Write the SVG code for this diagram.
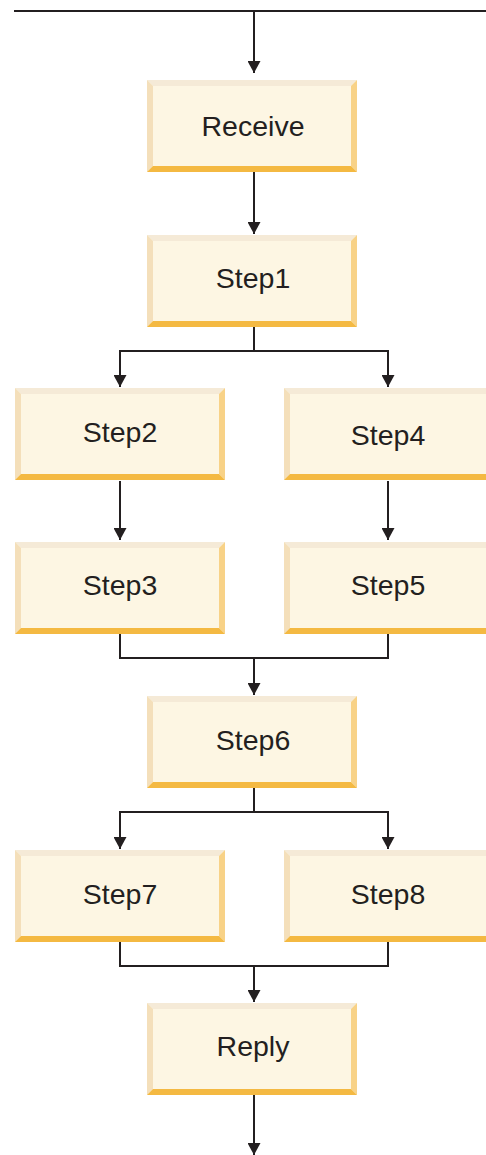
<svg xmlns="http://www.w3.org/2000/svg" xmlns:xlink="http://www.w3.org/1999/xlink" width="486" height="1155" viewBox="0 0 486 1155">
<style>
.lbl{font-family:"Liberation Sans",Arial,Helvetica,sans-serif;font-size:28.5px;fill:#231f20;text-anchor:middle}
.conn{fill:none;stroke:#231f20;stroke-width:2}
</style>
<defs>
<marker id="arr" markerUnits="userSpaceOnUse" viewBox="0 0 12 13" refX="12" refY="6.5" markerWidth="12" markerHeight="13" orient="auto">
<path d="M0,0 L12,6.5 L0,13 z" fill="#231f20"/>
</marker>
<g id="box">
<rect x="0" y="0" width="210" height="92" fill="#fdf6e3"/>
<polygon points="0,0 210,0 204,6 6,6" fill="#f5ead7"/>
<polygon points="0,0 6,6 6,86 0,92" fill="#f4dfba"/>
<polygon points="210,0 210,92 204,86 204,6" fill="#f8d287"/>
<polygon points="0,92 6,86 204,86 210,92" fill="#f4b942"/>
</g>
</defs>
<rect width="486" height="1155" fill="#ffffff"/>
<g id="connectors">
<path class="conn" d="M14,11 H486"/>
<path class="conn" d="M254,11 V73" marker-end="url(#arr)"/>
<path class="conn" d="M254,172 V234" marker-end="url(#arr)"/>
<path class="conn" d="M254,327 V351 H120 V387" marker-end="url(#arr)"/>
<path class="conn" d="M254,351 H388 V387" marker-end="url(#arr)"/>
<path class="conn" d="M120,481 V540" marker-end="url(#arr)"/>
<path class="conn" d="M388,481 V540" marker-end="url(#arr)"/>
<path class="conn" d="M120,634 V658 H388 V634"/>
<path class="conn" d="M254,658 V695" marker-end="url(#arr)"/>
<path class="conn" d="M254,788 V812 H120 V849" marker-end="url(#arr)"/>
<path class="conn" d="M254,812 H388 V849" marker-end="url(#arr)"/>
<path class="conn" d="M120,942 V966 H388 V942"/>
<path class="conn" d="M254,966 V1002" marker-end="url(#arr)"/>
<path class="conn" d="M254,1095 V1155" marker-end="url(#arr)"/>
</g>
<g id="receive"><use xlink:href="#box" x="147" y="80"/><text class="lbl" x="253" y="136">Receive</text></g>
<g id="step1"><use xlink:href="#box" x="147" y="235"/><text class="lbl" x="253" y="288">Step1</text></g>
<g id="step2"><use xlink:href="#box" x="15" y="388"/><text class="lbl" x="120" y="442">Step2</text></g>
<g id="step4"><use xlink:href="#box" x="284" y="388"/><text class="lbl" x="388" y="445">Step4</text></g>
<g id="step3"><use xlink:href="#box" x="15" y="542"/><text class="lbl" x="120" y="595">Step3</text></g>
<g id="step5"><use xlink:href="#box" x="284" y="542"/><text class="lbl" x="388" y="595">Step5</text></g>
<g id="step6"><use xlink:href="#box" x="147" y="696"/><text class="lbl" x="253" y="750">Step6</text></g>
<g id="step7"><use xlink:href="#box" x="15" y="850"/><text class="lbl" x="120" y="904">Step7</text></g>
<g id="step8"><use xlink:href="#box" x="284" y="850"/><text class="lbl" x="388" y="904">Step8</text></g>
<g id="reply"><use xlink:href="#box" x="147" y="1003"/><text class="lbl" x="253" y="1056">Reply</text></g>
</svg>
